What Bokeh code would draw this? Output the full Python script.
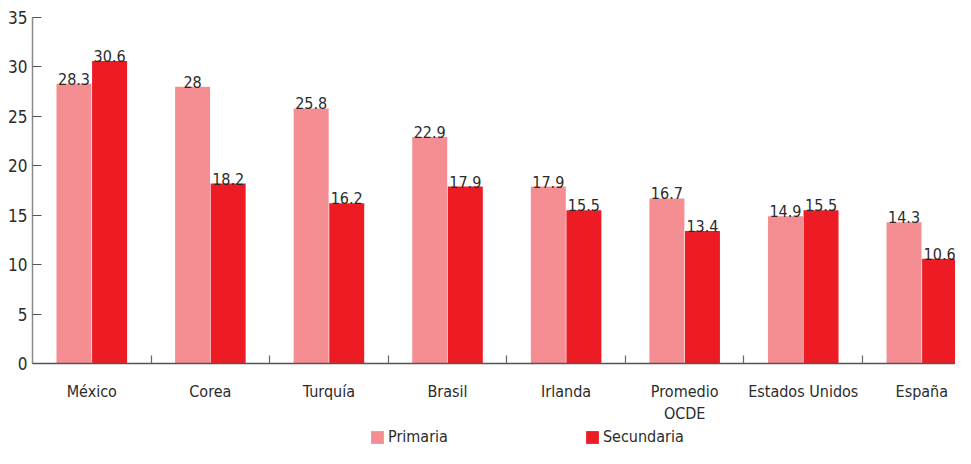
from bokeh.plotting import figure
from bokeh.layouts import column
from bokeh.models import Range1d, FixedTicker, Legend, LegendItem, ColumnDataSource
from bokeh.core.properties import value
from bokeh.embed import file_html
from bokeh.resources import INLINE

categories = ["México", "Corea", "Turquía", "Brasil", "Irlanda", "Promedio\nOCDE", "Estados Unidos", "España"]
primaria = [28.3, 28, 25.8, 22.9, 17.9, 16.7, 14.9, 14.3]
secundaria = [30.6, 18.2, 16.2, 17.9, 15.5, 13.4, 15.5, 10.6]
y_ticks = [0, 5, 10, 15, 20, 25, 30, 35]
series_names = ["Primaria", "Secundaria"]

FONT = "'DejaVu Sans Condensed', 'Liberation Sans Narrow', Roboto, sans-serif"
TXT = "#2b2b2b"
C_PRI = "#F58E92"
C_SEC = "#ED1C24"

n = len(categories)
idx = list(range(n))
src_p = ColumnDataSource(dict(x=[i + 0.35 for i in idx], top=primaria, lab=[f"{v:g}" for v in primaria]))
src_s = ColumnDataSource(dict(x=[i + 0.65 for i in idx], top=secundaria, lab=[f"{v:g}" for v in secundaria]))

p = figure(width=955, height=426, output_backend="svg", toolbar_location=None,
           x_range=Range1d(0, 7.784), y_range=Range1d(0, 35),
           min_border_left=32, min_border_right=0, min_border_top=17, min_border_bottom=63)
p.outline_line_color = None
p.xgrid.grid_line_color = None
p.ygrid.grid_line_color = None

p.vbar(x="x", top="top", width=0.295, bottom=0, source=src_p, fill_color=C_PRI, line_color=None)
p.vbar(x="x", top="top", width=0.295, bottom=0, source=src_s, fill_color=C_SEC, line_color=None)

for src in (src_p, src_s):
    p.text(x="x", y="top", text="lab", source=src, text_align="center", text_baseline="bottom",
           y_offset=1, text_font=value(FONT), text_font_size="16px", text_color=TXT)

# y axis
ya = p.yaxis[0]
ya.ticker = FixedTicker(ticks=y_ticks)
ya.axis_line_color = "#8a8a8a"
ya.axis_line_width = 1.5
ya.major_tick_line_color = "#555555"
ya.major_tick_line_width = 1.2
ya.major_tick_in = 9
ya.major_tick_out = 0
ya.minor_tick_line_color = None
ya.major_label_standoff = 5
ya.major_label_text_font = FONT
ya.major_label_text_font_size = "17px"
ya.major_label_text_color = TXT

# x axis
xa = p.xaxis[0]
centers = [i + 0.5 for i in idx]
xa.ticker = FixedTicker(ticks=centers, minor_ticks=[i for i in range(1, n)])
xa.major_label_overrides = {c: lab for c, lab in zip(centers, categories)}
xa.axis_line_color = "#555555"
xa.axis_line_width = 1.5
xa.major_tick_line_color = None
xa.minor_tick_line_color = "#666666"
xa.minor_tick_line_width = 1.2
xa.minor_tick_in = 8
xa.minor_tick_out = 0
xa.major_label_standoff = 12
xa.major_label_text_font = FONT
xa.major_label_text_font_size = "16px"
xa.major_label_text_color = TXT

# legend strip
lg = figure(width=955, height=22, output_backend="svg", toolbar_location=None,
            x_range=Range1d(0, 1), y_range=Range1d(0, 1),
            x_axis_location=None, y_axis_location=None,
            min_border_left=0, min_border_right=0, min_border_top=0, min_border_bottom=0)
lg.outline_line_color = None
lg.xgrid.grid_line_color = None
lg.ygrid.grid_line_color = None
d1 = lg.vbar(x=[5], top=[1], width=0.1, fill_color=C_PRI, line_color=None)
d2 = lg.vbar(x=[5], top=[1], width=0.1, fill_color=C_SEC, line_color=None)

legend = Legend(items=[LegendItem(label=series_names[0], renderers=[d1]),
                       LegendItem(label=series_names[1], renderers=[d2])],
                orientation="horizontal", location=(337, 2),
                glyph_width=16, glyph_height=16, label_standoff=3, spacing=136,
                padding=0, margin=0, border_line_color=None, background_fill_alpha=0,
                label_text_font=FONT, label_text_font_size="16px", label_text_color=TXT,
                label_height=16)
lg.add_layout(legend, "center")

open("out.html", "w").write(file_html(column(p, lg, spacing=0), INLINE))
